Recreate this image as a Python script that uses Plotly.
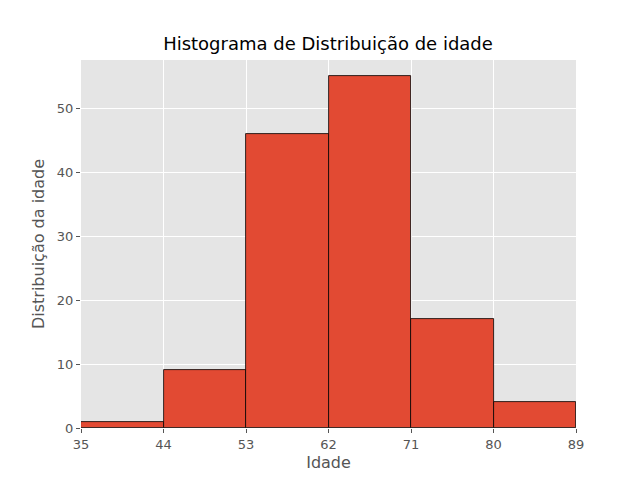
import plotly.graph_objects as go

bin_edges = [35, 44, 53, 62, 71, 80, 89]
counts = [1, 9, 46, 55, 17, 4]

centers = [(a + b) / 2 for a, b in zip(bin_edges[:-1], bin_edges[1:])]
widths = [b - a for a, b in zip(bin_edges[:-1], bin_edges[1:])]

fig = go.Figure(go.Bar(x=centers, y=counts, width=widths,
                       marker=dict(color="#E24A33", line=dict(color="black", width=0.8))))
fig.update_layout(
    width=640, height=480,
    margin=dict(l=73, r=72, t=52, b=60),
    paper_bgcolor="white", plot_bgcolor="#E5E5E5",
    font=dict(family="DejaVu Sans", color="#555555", size=13),
    title=dict(text="Histograma de Distribuição de idade", x=0.5, xanchor="center",
               y=1 - 36/480, yanchor="middle", font=dict(size=18, color="black")),
    showlegend=False, bargap=0,
)
fig.update_xaxes(range=[35, 89], tickvals=bin_edges, ticktext=[str(e) for e in bin_edges],
                 showgrid=True, gridcolor="white", gridwidth=1, zeroline=False,
                 ticks="outside", ticklen=4, tickcolor="#555555",
                 title=dict(text="Idade", font=dict(size=16, color="#555555"), standoff=6))
fig.update_yaxes(range=[0, 57.5], tickvals=[0, 10, 20, 30, 40, 50],
                 showgrid=True, gridcolor="white", gridwidth=1, zeroline=False,
                 ticks="outside", ticklen=4, tickcolor="#555555",
                 title=dict(text="Distribuição da idade", font=dict(size=16, color="#555555"), standoff=8))
fig.write_html("out.html")
